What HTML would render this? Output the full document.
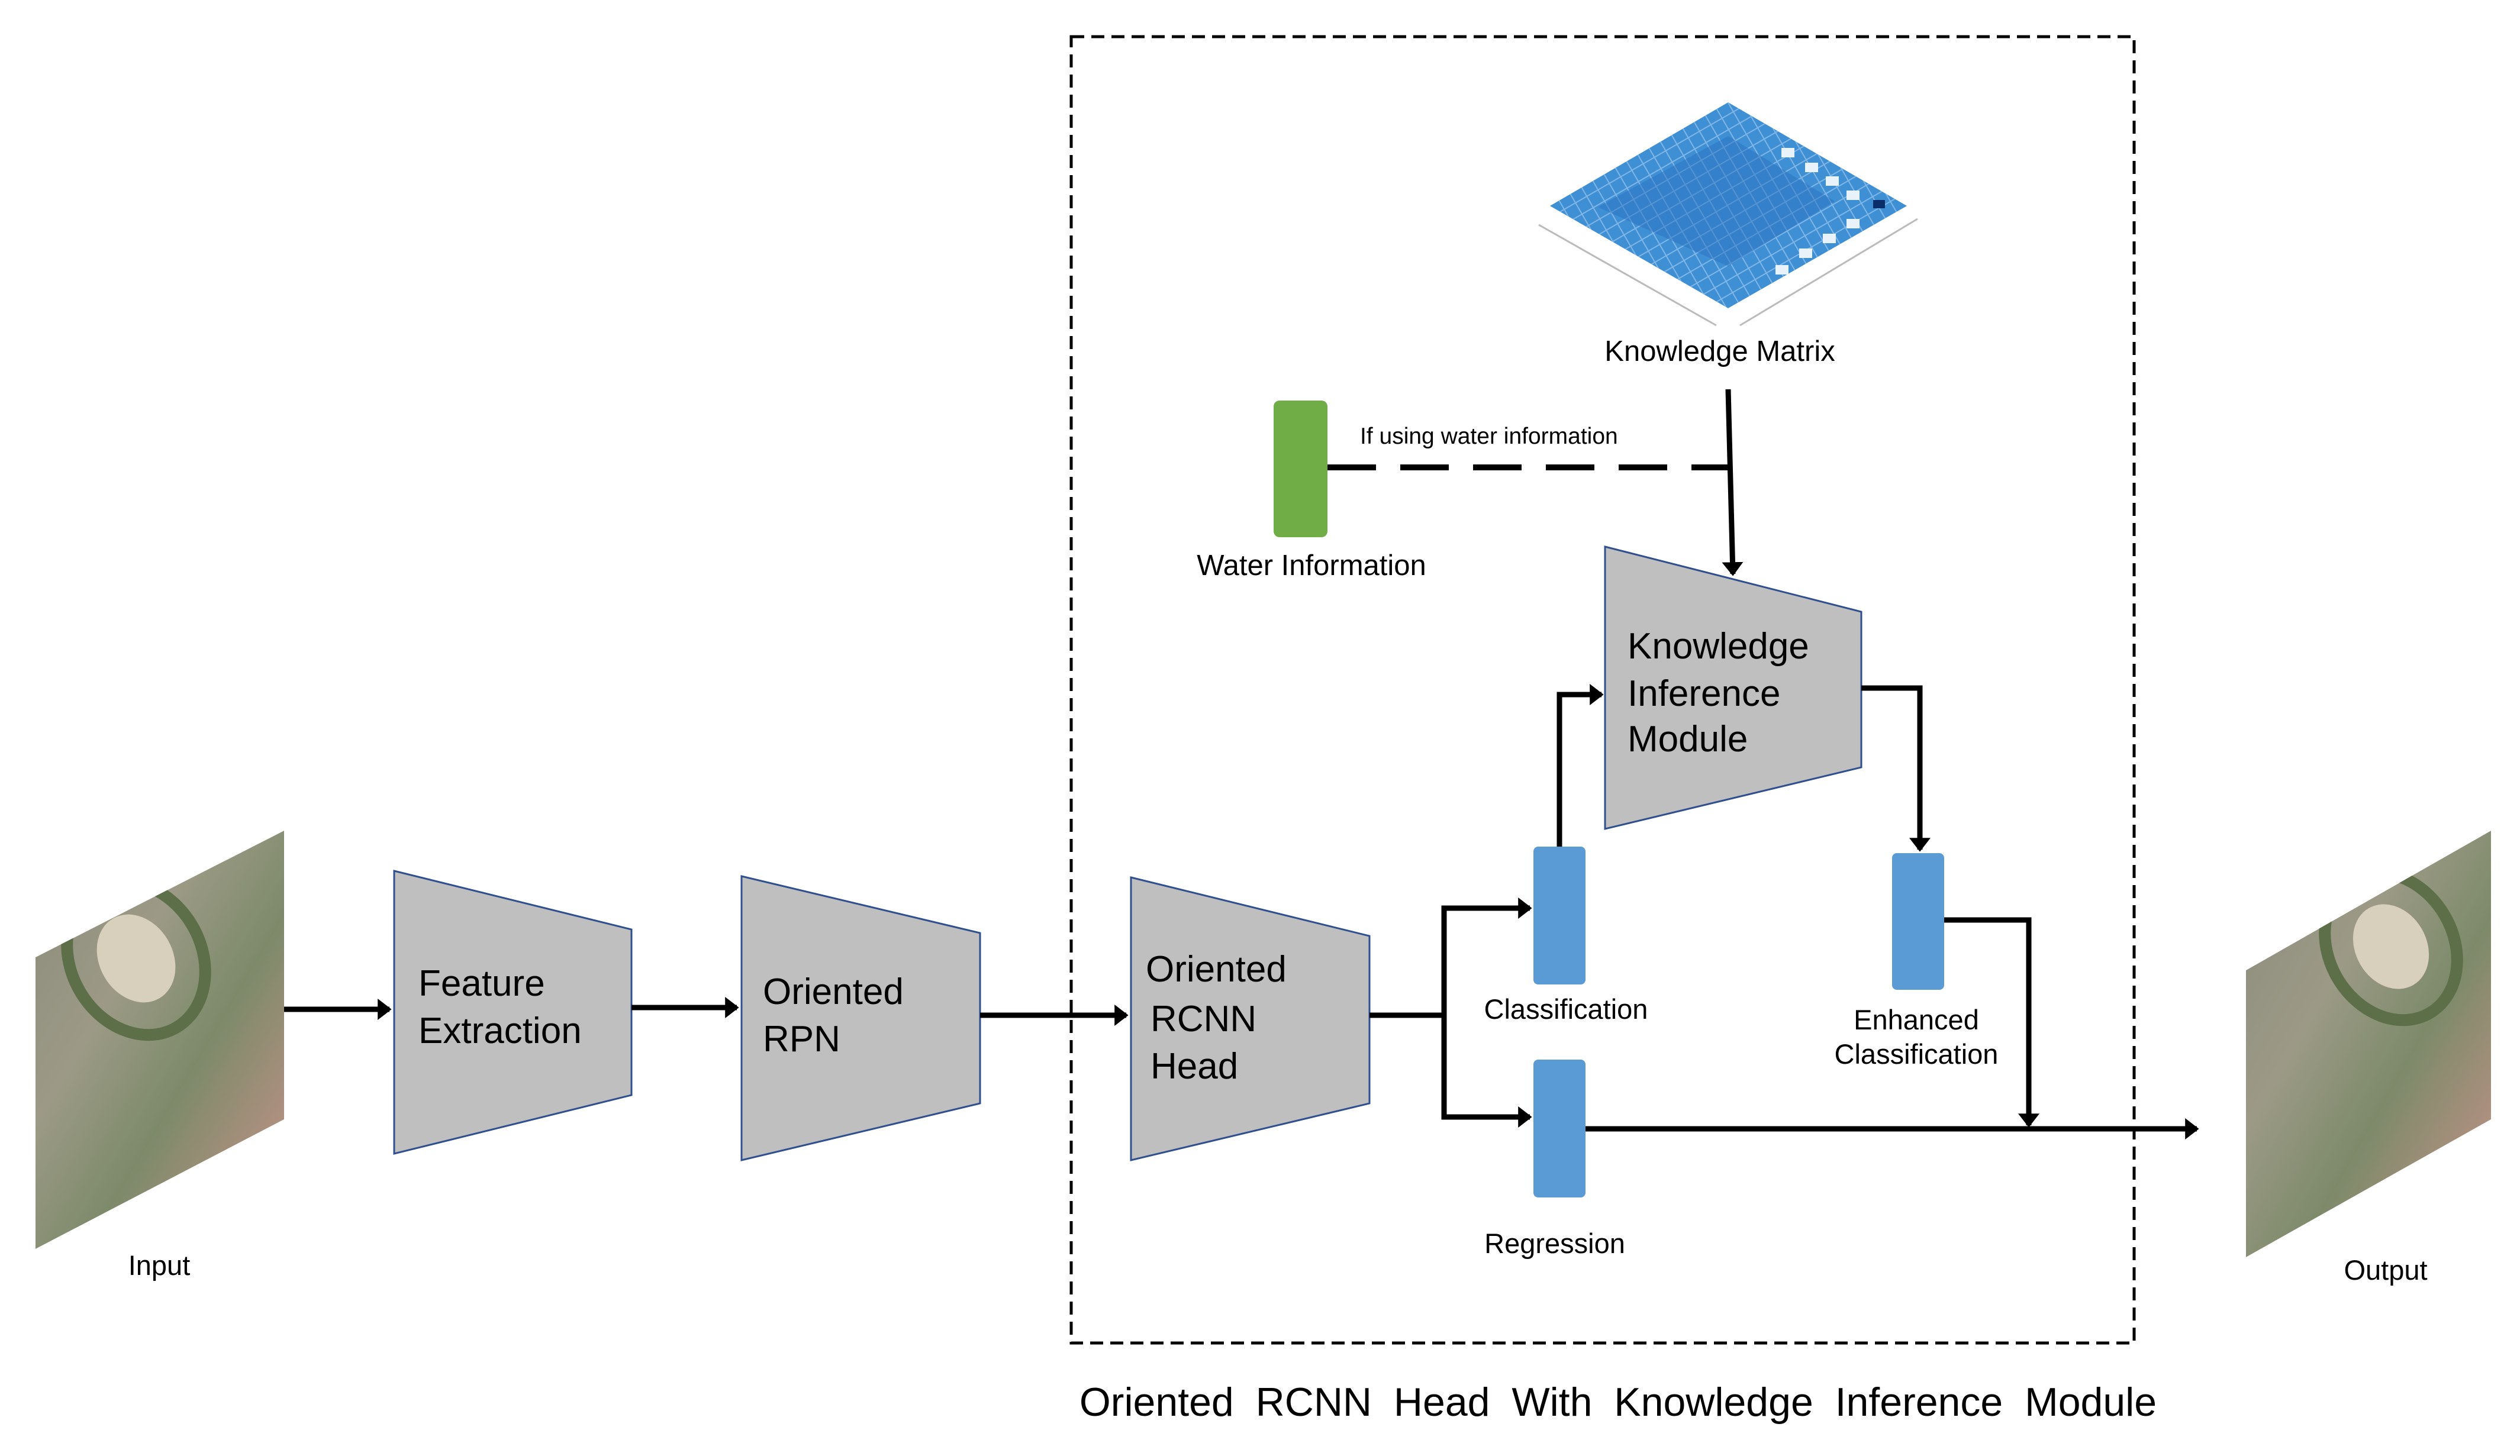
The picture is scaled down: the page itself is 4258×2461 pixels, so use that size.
<!DOCTYPE html>
<html><head><meta charset="utf-8"><style>
html,body{margin:0;padding:0;background:#fff}
svg{display:block}
text{font-family:"Liberation Sans",sans-serif;fill:#000}
</style></head><body>
<svg width="4258" height="2461" viewBox="0 0 4258 2461" xmlns="http://www.w3.org/2000/svg">
<defs>
<marker id="ah" markerWidth="4" markerHeight="4" refX="2.2" refY="2" orient="auto" markerUnits="strokeWidth">
<path d="M0,0 L2.6,2 L0,4 z" fill="#000"/></marker>
<linearGradient id="img1" x1="0" y1="0" x2="1" y2="1">
<stop offset="0" stop-color="#8a8a7c"/><stop offset="0.35" stop-color="#9c9a86"/>
<stop offset="0.6" stop-color="#7d8a6a"/><stop offset="0.85" stop-color="#b09080"/><stop offset="1" stop-color="#a08878"/></linearGradient>
<pattern id="grid" width="22" height="22" patternUnits="userSpaceOnUse" patternTransform="rotate(-30)">
<rect width="22" height="22" fill="none" stroke="#7fb6e6" stroke-width="2"/></pattern>
<clipPath id="c1"><polygon points="60,1618 480,1404 480,1892 60,2111"/></clipPath>
<clipPath id="c2"><polygon points="3795,1640 4209,1404 4209,1892 3795,2125"/></clipPath>
</defs>

<rect x="1810" y="62" width="1796" height="2208" fill="none" stroke="#000" stroke-width="5" stroke-dasharray="22,12"/>

<g clip-path="url(#c1)">
<polygon points="60,1618 480,1404 480,1892 60,2111" fill="url(#img1)"/>
<ellipse cx="230" cy="1620" rx="110" ry="135" fill="none" stroke="#5d6f48" stroke-width="20" transform="rotate(-30 230 1620)"/>
<ellipse cx="230" cy="1620" rx="62" ry="78" fill="#d8d0bc" transform="rotate(-30 230 1620)"/>
</g>
<g clip-path="url(#c2)">
<polygon points="3795,1640 4209,1404 4209,1892 3795,2125" fill="url(#img1)"/>
<ellipse cx="4040" cy="1600" rx="105" ry="130" fill="none" stroke="#5d6f48" stroke-width="20" transform="rotate(-30 4040 1600)"/>
<ellipse cx="4040" cy="1600" rx="60" ry="75" fill="#d8d0bc" transform="rotate(-30 4040 1600)"/>
</g>
<text x="269" y="2155" font-size="47" text-anchor="middle">Input</text>
<text x="4031" y="2163" font-size="47" text-anchor="middle">Output</text>

<g fill="#bfbfbf" stroke="#2f4f8f" stroke-width="3">
<polygon points="666,1472 1067,1571 1067,1851 666,1950"/>
<polygon points="1253,1481 1656,1577 1656,1865 1253,1961"/>
<polygon points="1911,1483 2314,1582 2314,1865 1911,1961"/>
<polygon points="2712,924 3145,1034 3145,1297 2712,1401"/>
</g>
<g font-size="62">
<text x="707" y="1683">Feature</text><text x="707" y="1763">Extraction</text>
<text x="1289" y="1697">Oriented</text><text x="1289" y="1777">RPN</text>
<text x="1936" y="1659">Oriented</text><text x="1944" y="1743">RCNN</text><text x="1944" y="1823">Head</text>
<text x="2750" y="1113">Knowledge</text><text x="2750" y="1193">Inference</text><text x="2750" y="1270">Module</text>
</g>

<g stroke="#bbb" stroke-width="3">
<line x1="2600" y1="380" x2="2900" y2="550"/><line x1="2940" y1="550" x2="3240" y2="370"/>
</g>
<polygon points="2619,348 2920,173 3222,348 2920,521" fill="#3f8fd4"/>
<polygon points="2619,348 2920,173 3222,348 2920,521" fill="url(#grid)"/>
<polygon points="2700,350 2920,230 3100,340 2920,450" fill="#2b72c0" opacity="0.5"/>
<g fill="#e8f2fb">
<rect x="3010" y="250" width="22" height="16"/><rect x="3050" y="275" width="22" height="16"/>
<rect x="3085" y="298" width="22" height="16"/><rect x="3120" y="322" width="22" height="16"/>
<rect x="3120" y="370" width="22" height="16"/><rect x="3080" y="395" width="22" height="16"/>
<rect x="3040" y="420" width="22" height="16"/><rect x="3000" y="448" width="22" height="16"/>
</g>
<rect x="3165" y="338" width="20" height="14" fill="#0b2e6b"/>
<text x="2906" y="610" font-size="49" text-anchor="middle">Knowledge Matrix</text>

<rect x="2152" y="677" width="91" height="231" rx="10" fill="#70ad47"/>
<text x="2216" y="972" font-size="49" text-anchor="middle">Water Information</text>
<text x="2298" y="750" font-size="39" fill="#222">If using water information</text>
<line x1="2243" y1="790" x2="2920" y2="790" stroke="#000" stroke-width="10" stroke-dasharray="82,41"/>

<g fill="#5b9bd5">
<rect x="2591" y="1431" width="88" height="233" rx="8"/>
<rect x="2591" y="1791" width="88" height="233" rx="8"/>
<rect x="3197" y="1442" width="88" height="231" rx="8"/>
</g>
<text x="2646" y="1722" font-size="47" text-anchor="middle">Classification</text>
<text x="3238" y="1740" font-size="47" text-anchor="middle">Enhanced</text>
<text x="3238" y="1798" font-size="47" text-anchor="middle">Classification</text>
<text x="2627" y="2118" font-size="47" text-anchor="middle">Regression</text>

<g stroke="#000" stroke-width="9" fill="none" marker-end="url(#ah)">
<line x1="480" y1="1706" x2="658" y2="1706"/>
<line x1="1067" y1="1703" x2="1245" y2="1703"/>
<line x1="1656" y1="1716" x2="1903" y2="1716"/>
<polyline points="2314,1716 2440,1716 2440,1535 2585,1535"/>
<polyline points="2440,1716 2440,1888 2585,1888"/>
<polyline points="2635,1431 2635,1174 2706,1174"/>
<polyline points="3145,1163 3244,1163 3244,1436"/>
<polyline points="3285,1555 3428,1555 3428,1902"/>
<line x1="2679" y1="1908" x2="3712" y2="1908"/>
<line x1="2920" y1="658" x2="2928" y2="970"/>
</g>

<text x="2734" y="2393" font-size="68" text-anchor="middle" word-spacing="18">Oriented RCNN Head With Knowledge Inference Module</text>
</svg>
</body></html>
